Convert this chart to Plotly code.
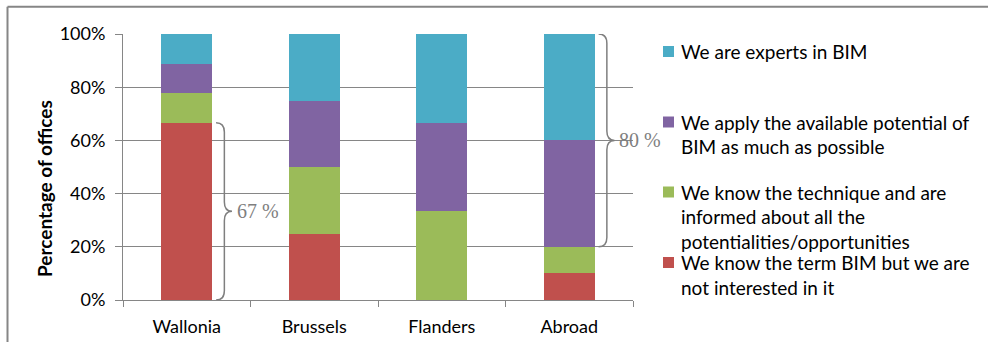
import plotly.graph_objects as go

categories = ["Wallonia", "Brussels", "Flanders", "Abroad"]
series_names = [
    "We know the term BIM but we are not interested in it",
    "We know the technique and are informed about all the potentialities/opportunities",
    "We apply the available potential of BIM as much as possible",
    "We are experts in BIM",
]
legend_lines = [
    ["We know the term BIM but we are", "not interested in it"],
    ["We know the technique and are", "informed about all the", "potentialities/opportunities"],
    ["We apply the available potential of", "BIM as much as possible"],
    ["We are experts in BIM"],
]
not_interested = [66.67, 25.0, 0.0, 10.0]
know_technique = [11.11, 25.0, 33.33, 10.0]
apply_potential = [11.11, 25.0, 33.33, 40.0]
experts = [11.11, 25.0, 33.34, 40.0]
y_ticks = [0, 20, 40, 60, 80, 100]
y_ticktext = ["0%", "20%", "40%", "60%", "80%", "100%"]

colors = ["#C0504D", "#9BBB59", "#8064A2", "#4BACC6"]
values = [not_interested, know_technique, apply_potential, experts]

FONT = "Lato"
x = list(range(len(categories)))
BAR_W = 0.4

fig = go.Figure()
for name, vals, col in zip(series_names, values, colors):
    fig.add_trace(go.Bar(x=x, y=vals, name=name, marker=dict(color=col, line=dict(width=0)),
                         width=BAR_W, showlegend=False))

# Plot geometry (pixels)
L, R, T, B = 123, 355, 34, 42
W, H = 988, 342
pw, ph = W - L - R, H - T - B

def px_x(p):
    return (p - L) / pw

def px_y(p):
    return (H - B - p) / ph

shapes = []
annotations = []

# Braces
def brace(i, ya, yb):
    xe = x[i] + BAR_W / 2
    x0, x1, x2 = xe + 0.03, xe + 0.095, xe + 0.155
    ym = (ya + yb) / 2
    r = 3.5
    path = (f"M {x0},{ya} Q {x1},{ya} {x1},{ya + r} L {x1},{ym - r} "
            f"Q {x1},{ym} {x2},{ym} Q {x1},{ym} {x1},{ym + r} "
            f"L {x1},{yb - r} Q {x1},{yb} {x0},{yb}")
    shapes.append(dict(type="path", path=path, xref="x", yref="y",
                       line=dict(color="#7F7F7F", width=1.5)))
    annotations.append(dict(x=x2 + 0.02, y=ym, xref="x", yref="y", xanchor="left", yanchor="middle",
                            text=f"{round(yb - ya)} %", showarrow=False,
                            font=dict(family="Liberation Serif", size=20, color="#7F7F7F")))

brace(0, 0, not_interested[0])
a_low = not_interested[3] + know_technique[3]
brace(3, a_low, a_low + apply_potential[3] + experts[3])

# Border lines
bx = px_x(7.5)
by = px_y(6.7)
shapes.append(dict(type="line", xref="paper", yref="paper", x0=bx, x1=px_x(W + 2), y0=by, y1=by,
                   line=dict(color="#868686", width=2)))
shapes.append(dict(type="line", xref="paper", yref="paper", x0=bx, x1=bx, y0=by, y1=px_y(H + 2),
                   line=dict(color="#868686", width=2)))

# Custom legend
legend_first_y = [262.5, 192, 122, 51.5]
line_h = 24.5
for lines, col, fy in zip(legend_lines, colors, legend_first_y):
    shapes.append(dict(type="rect", xref="paper", yref="paper",
                       x0=px_x(663), x1=px_x(674), y0=px_y(fy - 5.5), y1=px_y(fy + 5.5),
                       fillcolor=col, line=dict(width=0)))
    for k, ln in enumerate(lines):
        annotations.append(dict(x=px_x(679), y=px_y(fy + k * line_h), xref="paper", yref="paper",
                                xanchor="left", yanchor="middle", text=ln, showarrow=False,
                                font=dict(family=FONT, size=19, color="#000000")))

# Y axis title
annotations.append(dict(x=px_x(45), y=px_y(189), xref="paper", yref="paper", text="<b>Percentage of offices</b>",
                        textangle=-90, showarrow=False, xanchor="center", yanchor="middle",
                        font=dict(family=FONT, size=19, color="#000000")))

fig.update_layout(
    barmode="stack",
    width=W, height=H,
    margin=dict(l=L, r=R, t=T, b=B, pad=0, autoexpand=False),
    paper_bgcolor="white", plot_bgcolor="white",
    font=dict(family=FONT, size=18, color="#000000"),
    shapes=shapes, annotations=annotations,
    showlegend=False,
    xaxis=dict(range=[-0.5, len(categories) - 0.5], tickvals=x, ticktext=categories, ticks="",
               showgrid=False, showline=True, linecolor="#868686", linewidth=1,
               zeroline=False, ticklabelstandoff=10, automargin=False,
               minor=dict(ticks="outside", tick0=-0.5, dtick=1, ticklen=6, tickcolor="#868686", showgrid=False)),
    yaxis=dict(range=[0, 100], tickvals=y_ticks, ticktext=y_ticktext, ticks="outside", ticklen=7,
               tickcolor="#868686", showgrid=True, gridcolor="#868686", gridwidth=1,
               showline=True, linecolor="#868686", linewidth=1, zeroline=False, ticklabelstandoff=6,
               automargin=False),
)

fig.write_html("out.html")
